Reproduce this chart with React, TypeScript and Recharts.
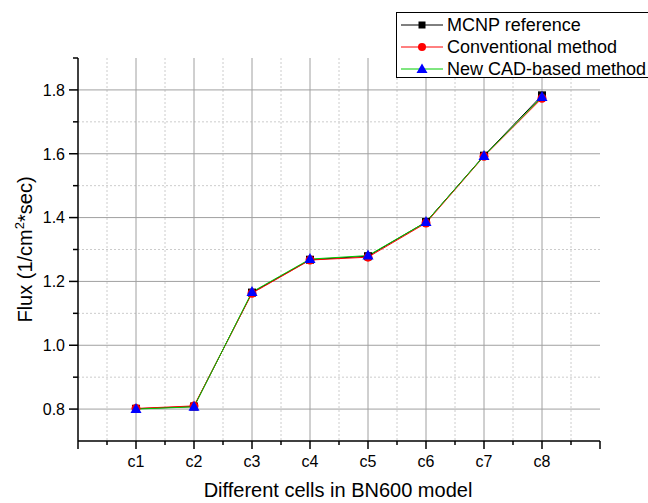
import React from "react";
import { LineChart, Line, XAxis, YAxis, CartesianGrid } from "recharts";

const cells = ["c1", "c2", "c3", "c4", "c5", "c6", "c7", "c8"];
const mcnp = [0.801, 0.808, 1.165, 1.268, 1.279, 1.386, 1.594, 1.783];
const conventional = [0.802, 0.81, 1.163, 1.267, 1.276, 1.383, 1.592, 1.774];
const cadBased = [0.8, 0.807, 1.167, 1.27, 1.281, 1.386, 1.593, 1.778];

const xTicks = [0, 0.5, 1, 1.5, 2, 2.5, 3, 3.5, 4, 4.5, 5, 5.5, 6, 6.5, 7, 7.5, 8, 8.5, 9];
const yTicks = [0.8, 0.9, 1.0, 1.1, 1.2, 1.3, 1.4, 1.5, 1.6, 1.7, 1.8, 1.9];
const yLabels = [0.8, 1.0, 1.2, 1.4, 1.6, 1.8];
const xMajorGrid = [1, 2, 3, 4, 5, 6, 7, 8];
const xMinorGrid = [0.5, 1.5, 2.5, 3.5, 4.5, 5.5, 6.5, 7.5, 8.5];
const yMajorGrid = [0.8, 1.0, 1.2, 1.4, 1.6, 1.8];
const yMinorGrid = [0.9, 1.1, 1.3, 1.5, 1.7];

const FONT = "'Liberation Sans', Arial, sans-serif";

const data = cells.map((c, i) => ({
  idx: i + 1,
  cell: c,
  mcnp: mcnp[i],
  conventional: conventional[i],
  cad: cadBased[i],
}));

function XTick(props: any) {
  const { x, y, payload } = props;
  const v = payload.value as number;
  const major = Number.isInteger(v);
  const label = major && v >= 1 && v <= 8 ? cells[v - 1] : "";
  return (
    <g>
      <line x1={x} y1={y} x2={x} y2={y + (major ? 8 : 4)} stroke="#000" strokeWidth={1.5} />
      {label && (
        <text x={x} y={y + 26} textAnchor="middle" fontSize={16} fill="#000" fontFamily={FONT}>
          {label}
        </text>
      )}
    </g>
  );
}

function YTick(props: any) {
  const { x, y, payload } = props;
  const v = payload.value as number;
  const major = yLabels.some((l) => Math.abs(l - v) < 1e-6);
  return (
    <g>
      <line x1={x} y1={y} x2={x - (major ? 9 : 5)} y2={y} stroke="#000" strokeWidth={1.5} />
      {major && (
        <text x={x - 13} y={y} dy="0.36em" textAnchor="end" fontSize={16} fill="#000" fontFamily={FONT}>
          {v.toFixed(1)}
        </text>
      )}
    </g>
  );
}

function Square(props: any) {
  const { cx, cy } = props;
  if (cx == null || cy == null) return <g />;
  return <rect x={cx - 4} y={cy - 4} width={8} height={8} fill="#000" />;
}

function Circle(props: any) {
  const { cx, cy } = props;
  if (cx == null || cy == null) return <g />;
  return <circle cx={cx} cy={cy} r={4.5} fill="#ff0000" />;
}

function Triangle(props: any) {
  const { cx, cy } = props;
  if (cx == null || cy == null) return <g />;
  return <path d={`M${cx},${cy - 6} L${cx + 5.5},${cy + 4} L${cx - 5.5},${cy + 4} Z`} fill="#0000ff" />;
}

function XTitle(props: any) {
  const vb = props.viewBox;
  return (
    <text x={vb.x + vb.width / 2 - 1} y={vb.y + 56} textAnchor="middle" fontSize={20} fill="#000" fontFamily={FONT}>
      Different cells in BN600 model
    </text>
  );
}

function YTitle(props: any) {
  const vb = props.viewBox;
  const cx = 32;
  const cy = vb.y + vb.height / 2;
  return (
    <text
      x={cx}
      y={cy}
      transform={`rotate(-90, ${cx}, ${cy})`}
      textAnchor="middle"
      fontSize={20}
      fill="#000"
      fontFamily={FONT}
    >
      Flux (1/cm
      <tspan fontSize={13} dy={-8}>2</tspan>
      <tspan dy={8}>*sec)</tspan>
    </text>
  );
}

const legendItems = [
  { name: "MCNP reference", line: "#000", marker: "square" },
  { name: "Conventional method", line: "#ff0000", marker: "circle" },
  { name: "New CAD-based method", line: "#00cc00", marker: "triangle" },
];

function LegendBox() {
  return (
    <div
      style={{
        position: "absolute",
        left: 396,
        top: 12,
        width: 270,
        height: 66,
        border: "1px solid #000",
        boxSizing: "border-box",
        background: "#fff",
        fontFamily: FONT,
        fontSize: 18,
      }}
    >
      {legendItems.map((it, i) => (
        <div key={it.name} style={{ position: "absolute", left: 0, top: 1 + i * 22, height: 22, display: "flex", alignItems: "center" }}>
          <svg width={50} height={22} style={{ display: "block" }}>
            <line x1={4} y1={11} x2={46} y2={11} stroke={it.line} strokeWidth={1} />
            {it.marker === "square" && <rect x={21.5} y={7.5} width={7} height={7} fill="#000" />}
            {it.marker === "circle" && <circle cx={25} cy={11} r={4} fill="#ff0000" />}
            {it.marker === "triangle" && <path d="M25,5.5 L30.5,15 L19.5,15 Z" fill="#0000ff" />}
          </svg>
          <span style={{ whiteSpace: "nowrap", lineHeight: "22px" }}>{it.name}</span>
        </div>
      ))}
    </div>
  );
}

export default function App() {
  return (
    <div style={{ position: "relative", width: 648, height: 503, overflow: "hidden", background: "#fff" }}>
      <style>{"body{margin:0}"}</style>
      <LineChart width={648} height={503} data={data} margin={{ top: 58, right: 48, bottom: 0, left: 0 }}>
        <CartesianGrid
          stroke="#cccccc"
          strokeDasharray="2 2"
          verticalValues={xMinorGrid}
          horizontalValues={yMinorGrid}
        />
        <CartesianGrid
          stroke="#a0a0a0"
          verticalValues={xMajorGrid}
          horizontalValues={yMajorGrid}
        />
        <XAxis
          dataKey="idx"
          type="number"
          domain={[0, 9]}
          ticks={xTicks}
          interval={0}
          height={62}
          tickSize={0}
          tickMargin={0}
          tickLine={false}
          tick={<XTick />}
          axisLine={{ stroke: "#000", strokeWidth: 1.5 }}
          label={<XTitle />}
        />
        <YAxis
          type="number"
          domain={[0.7, 1.9]}
          ticks={yTicks}
          interval={0}
          width={78}
          tickSize={0}
          tickMargin={0}
          tickLine={false}
          tick={<YTick />}
          axisLine={{ stroke: "#000", strokeWidth: 1.5 }}
          label={<YTitle />}
        />
        <Line
          dataKey="mcnp"
          stroke="#000"
          strokeWidth={1}
          dot={<Square />}
          isAnimationActive={false}
        />
        <Line
          dataKey="conventional"
          stroke="#ff0000"
          strokeWidth={1}
          dot={<Circle />}
          isAnimationActive={false}
        />
        <Line
          dataKey="cad"
          stroke="#00cc00"
          strokeWidth={1}
          dot={<Triangle />}
          isAnimationActive={false}
        />
      </LineChart>
      <LegendBox />
    </div>
  );
}
